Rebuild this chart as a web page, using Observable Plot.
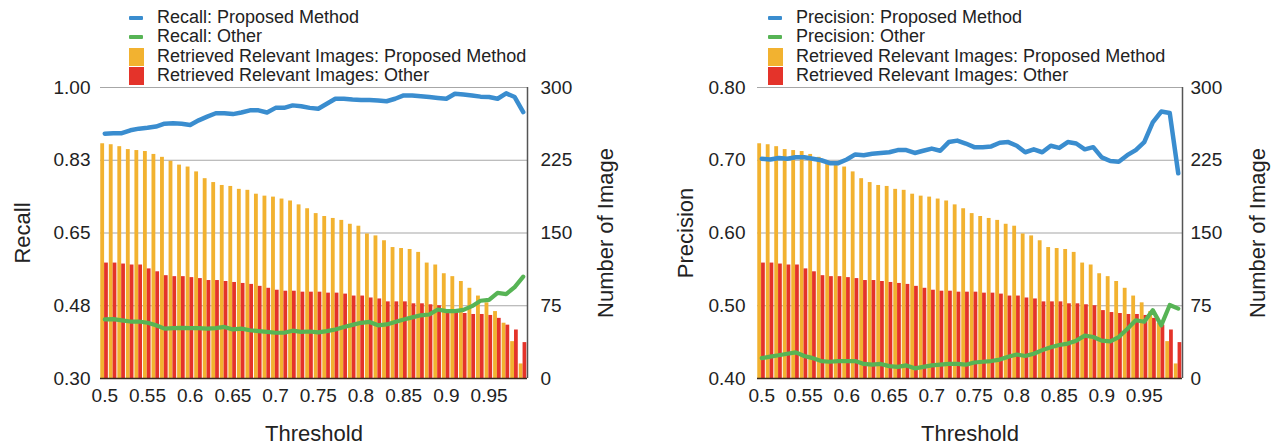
<!DOCTYPE html>
<html>
<head>
<meta charset="utf-8">
<script src="https://cdn.jsdelivr.net/npm/d3@7"></script>
<script src="https://cdn.jsdelivr.net/npm/@observablehq/plot@0.6"></script>
<style>
  html, body { margin: 0; padding: 0; background: #fff; }
  body { font-family: "Liberation Sans", Arial, sans-serif; color: #222; }
  #wrap { display: flex; width: 1275px; height: 447px; overflow: hidden; }
  .panel { position: relative; height: 447px; }
  .legend { position: absolute; top: 7.5px; font-size: 18px; line-height: 19.5px; }
  .row { display: flex; align-items: center; height: 19.5px; white-space: nowrap; }
  .sw { width: 28px; height: 19.5px; position: relative; flex: none; }
  .sw .ln { position: absolute; left: 0; top: 8px; width: 14px; height: 4px; border-radius: 1px; }
  .sw .sq { position: absolute; left: 0; top: 1px; width: 15px; height: 18px; }
</style>
</head>
<body>
<div id="wrap"></div>
<script>
// ---------- data ----------
const thresholds = [0.50,0.51,0.52,0.53,0.54,0.55,0.56,0.57,0.58,0.59,
                    0.60,0.61,0.62,0.63,0.64,0.65,0.66,0.67,0.68,0.69,
                    0.70,0.71,0.72,0.73,0.74,0.75,0.76,0.77,0.78,0.79,
                    0.80,0.81,0.82,0.83,0.84,0.85,0.86,0.87,0.88,0.89,
                    0.90,0.91,0.92,0.93,0.94,0.95,0.96,0.97,0.98,0.99];
const xTicks = [0.5,0.55,0.6,0.65,0.7,0.75,0.8,0.85,0.9,0.95];
const xTickLabels = ["0.5","0.55","0.6","0.65","0.7","0.75","0.8","0.85","0.9","0.95"];
const countTicks = [0,75,150,225,300];
const countTickLabels = ["0","75","150","225","300"];
const recallTickLabels = ["0.30","0.48","0.65","0.83","1.00"];
const precisionTickLabels = ["0.40","0.50","0.60","0.70","0.80"];
const recallDomain = [0.30, 1.00];
const precisionDomain = [0.40, 0.80];

const relevantProposed = [242,241,239,236,235,234,231,228,224,220,
                          218,213,206,202,199,198,195,194,190,188,
                          187,185,183,179,175,170,167,165,163,159,
                          157,149,147,142,135,134,133,130,119,117,
                          108,105,100,93,85,78,69,57,38,15];
const relevantOther = [119,119,118,117,117,113,110,106,105,105,
                       104,103,101,101,100,99,98,97,95,93,
                       91,90,90,89,89,89,88,88,87,85,
                       85,83,82,79,79,79,77,77,76,75,
                       70,68,67,66,66,65,62,55,50,37];

const recallProposed = [0.889,0.890,0.890,0.897,0.901,0.903,0.906,0.913,0.914,0.913,
                        0.910,0.921,0.930,0.938,0.938,0.936,0.940,0.945,0.945,0.940,
                        0.951,0.951,0.957,0.955,0.951,0.949,0.961,0.973,0.973,0.971,
                        0.970,0.970,0.969,0.967,0.973,0.981,0.981,0.979,0.977,0.975,
                        0.973,0.985,0.983,0.981,0.978,0.977,0.973,0.986,0.977,0.941];
const recallOther = [0.442,0.443,0.440,0.437,0.437,0.434,0.428,0.420,0.421,0.422,
                     0.421,0.421,0.420,0.421,0.424,0.418,0.420,0.416,0.414,0.412,
                     0.410,0.410,0.415,0.412,0.413,0.411,0.414,0.418,0.424,0.429,
                     0.434,0.436,0.428,0.430,0.436,0.442,0.447,0.452,0.454,0.466,
                     0.462,0.462,0.465,0.474,0.487,0.489,0.506,0.503,0.520,0.545];
const precisionProposed = [0.702,0.701,0.703,0.702,0.704,0.704,0.702,0.700,0.696,0.696,
                           0.701,0.708,0.707,0.709,0.710,0.711,0.714,0.714,0.710,0.713,
                           0.716,0.713,0.725,0.727,0.723,0.718,0.718,0.719,0.724,0.725,
                           0.720,0.711,0.715,0.711,0.720,0.717,0.725,0.723,0.715,0.718,
                           0.704,0.699,0.698,0.707,0.714,0.725,0.752,0.767,0.765,0.682];
const precisionOther = [0.428,0.430,0.432,0.434,0.436,0.431,0.428,0.424,0.423,0.424,
                        0.424,0.424,0.420,0.419,0.420,0.417,0.416,0.418,0.414,0.416,
                        0.418,0.419,0.420,0.420,0.419,0.422,0.423,0.424,0.426,0.430,
                        0.433,0.431,0.434,0.439,0.443,0.446,0.448,0.452,0.459,0.457,
                        0.452,0.451,0.457,0.468,0.480,0.478,0.494,0.473,0.501,0.496];

// ---------- style ----------
const BLUE = "#3a8dcf", GREEN = "#57b455", ORANGE = "#f2b230", RED = "#e4332a";
const FONT = "'Liberation Sans', Arial, Helvetica, sans-serif";

function legendHTML(left, items) {
  const d = document.createElement("div");
  d.className = "legend";
  d.style.left = left + "px";
  for (const it of items) {
    const r = document.createElement("div");
    r.className = "row";
    const sw = document.createElement("div");
    sw.className = "sw";
    const m = document.createElement("div");
    m.className = it.type === "line" ? "ln" : "sq";
    m.style.background = it.color;
    sw.appendChild(m);
    const t = document.createElement("span");
    t.textContent = it.label;
    r.appendChild(sw); r.appendChild(t);
    d.appendChild(r);
  }
  return d;
}

function panel(o) {
  const toCount = d3.scaleLinear().domain(o.lineDomain).range([0, 300]);
  const bars = thresholds.map((t, i) => ({t, p: relevantProposed[i], o: relevantOther[i]}));
  const propRows = thresholds.map((t, i) => ({t, v: o.prop[i]}));
  const otherRows = thresholds.map((t, i) => ({t, v: o.other[i]}));
  return Plot.plot({
    width: o.width,
    height: 447,
    marginLeft: o.ml,
    marginRight: o.mr,
    marginTop: 87,
    marginBottom: 69,
    style: {fontFamily: FONT, fontSize: "19px", color: "#222", background: "transparent", overflow: "visible"},
    x: {domain: [0.495, 0.995]},
    y: {domain: [0, 300]},
    marks: [
      Plot.gridY(countTicks, {stroke: "#8a8a8a", strokeOpacity: 0.75, strokeWidth: 1.2}),
      Plot.rectY(bars, {x1: d => d.t - 0.0047, x2: d => d.t - 0.0002, y: "p", fill: ORANGE}),
      Plot.rectY(bars, {x1: d => d.t - 0.0002, x2: d => d.t + 0.0042, y: "o", fill: RED}),
      Plot.line(otherRows, {x: "t", y: d => toCount(d.v), stroke: GREEN, strokeWidth: 4.2, strokeLinejoin: "round"}),
      Plot.line(propRows, {x: "t", y: d => toCount(d.v), stroke: BLUE, strokeWidth: 4.5, strokeLinejoin: "round"}),
      Plot.ruleY([0], {stroke: "#3a2a20", strokeWidth: 1.5}),
      Plot.ruleX([0.995], {stroke: "#555", strokeWidth: 1.5}),
      Plot.axisY(countTicks, {anchor: "left", tickSize: 0, tickPadding: o.lpad, label: null,
        tickFormat: d => o.leftLabels[countTicks.indexOf(d)]}),
      Plot.axisY(countTicks, {anchor: "right", tickSize: 0, tickPadding: o.rpad, label: null,
        tickFormat: d => countTickLabels[countTicks.indexOf(d)]}),
      Plot.axisX(xTicks, {tickSize: 0, tickPadding: 10, label: null,
        tickFormat: d => xTickLabels[xTicks.indexOf(d)]}),
      Plot.text([o.yTitle], {frameAnchor: "left", dx: -o.ltitle, rotate: -90, fontSize: 22, textAnchor: "middle", lineAnchor: "middle", fill: "#222"}),
      Plot.text(["Number of Image"], {frameAnchor: "right", dx: o.rtitle, rotate: -90, fontSize: 22, textAnchor: "middle", lineAnchor: "middle", fill: "#222"}),
      Plot.text(["Threshold"], {frameAnchor: "bottom", dy: 55, fontSize: 22, textAnchor: "middle", lineAnchor: "middle", fill: "#222"})
    ]
  });
}

const wrap = document.getElementById("wrap");

const p1 = document.createElement("div");
p1.className = "panel"; p1.style.width = "637px";
p1.appendChild(panel({width: 637, ml: 100, mr: 110, lineDomain: recallDomain, leftLabels: recallTickLabels,
  prop: recallProposed, other: recallOther, yTitle: "Recall", lpad: 10, rpad: 13, ltitle: 78, rtitle: 78}));
p1.appendChild(legendHTML(129, [
  {type: "line", color: BLUE, label: "Recall: Proposed Method"},
  {type: "line", color: GREEN, label: "Recall: Other"},
  {type: "sq", color: ORANGE, label: "Retrieved Relevant Images: Proposed Method"},
  {type: "sq", color: RED, label: "Retrieved Relevant Images: Other"}
]));
wrap.appendChild(p1);

const p2 = document.createElement("div");
p2.className = "panel"; p2.style.width = "638px";
p2.appendChild(panel({width: 638, ml: 120, mr: 93, lineDomain: precisionDomain, leftLabels: precisionTickLabels,
  prop: precisionProposed, other: precisionOther, yTitle: "Precision", lpad: 12, rpad: 8, ltitle: 72, rtitle: 75}));
p2.appendChild(legendHTML(131, [
  {type: "line", color: BLUE, label: "Precision: Proposed Method"},
  {type: "line", color: GREEN, label: "Precision: Other"},
  {type: "sq", color: ORANGE, label: "Retrieved Relevant Images: Proposed Method"},
  {type: "sq", color: RED, label: "Retrieved Relevant Images: Other"}
]));
wrap.appendChild(p2);
</script>
</body>
</html>
